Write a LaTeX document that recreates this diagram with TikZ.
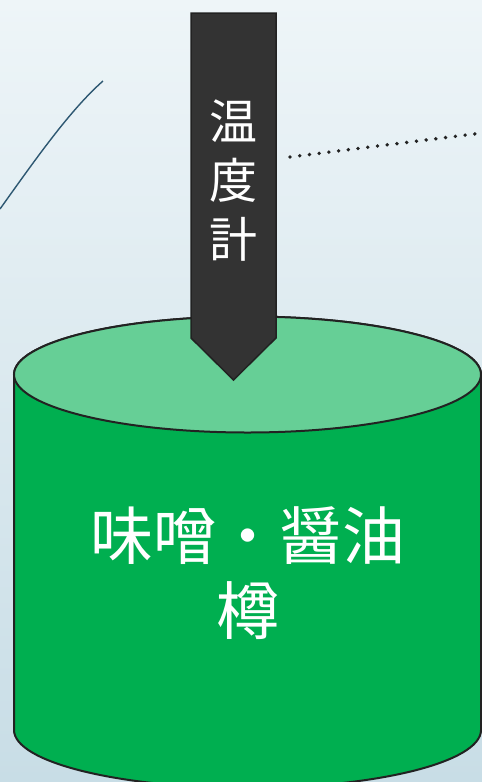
\documentclass[tikz,border=0pt]{standalone}
\usepackage{fontspec}
\newfontfamily\cjk{Noto Sans CJK JP}
\definecolor{bgtop}{HTML}{EEF5F8}
\definecolor{bgbot}{HTML}{C8DDE6}
\definecolor{barrel}{HTML}{00AF50}
\definecolor{barreltop}{HTML}{66CF96}
\definecolor{thermo}{HTML}{333333}
\definecolor{edge}{HTML}{222222}
\definecolor{curveblue}{HTML}{2E5872}
\tikzset{
  outline/.style={draw=edge, line width=2pt},
  lbl/.style={text=white, font=\cjk, inner sep=0pt, align=center},
}
\begin{document}
\begin{tikzpicture}[x=1pt,y=-1pt]
\useasboundingbox (0,0) rectangle (482,782);
\shade[top color=bgtop, bottom color=bgbot] (0,0) rectangle (482,782);
% curve
\draw[curveblue, line width=1.4pt] (0,209) .. controls (35,160) and (70,110) .. (103,81);
% dotted
\coordinate (d1) at (290,157);
\coordinate (d2) at (482,133);
\draw[edge, line width=3.8pt, line cap=round, dash pattern=on 0pt off 9.8pt] (d1) -- (d2);
% barrel body
\path[fill=barrel, outline] (14,374.5) -- (14,730) arc[start angle=180, end angle=0, x radius=233.5, y radius=58] -- (481,374.5) arc[start angle=0, end angle=-180, x radius=233.5, y radius=58] -- cycle;
\path[fill=barreltop, outline] (247.5,374.5) ellipse[x radius=233.5, y radius=58];
% thermometer
\path[fill=thermo, draw=edge, line width=1.5pt, line join=miter] (191,13) -- (276,13) -- (276,338) -- (233.5,380) -- (191,338) -- cycle;
\node[lbl, font=\cjk\fontsize{48}{59}\selectfont] (t) at (233.5,181) {温\\度\\計};
\node[lbl, font=\cjk\fontsize{63}{75}\selectfont] (b) at (247.5,573) {味噌・醤油\\樽};
\end{tikzpicture}
\end{document}
